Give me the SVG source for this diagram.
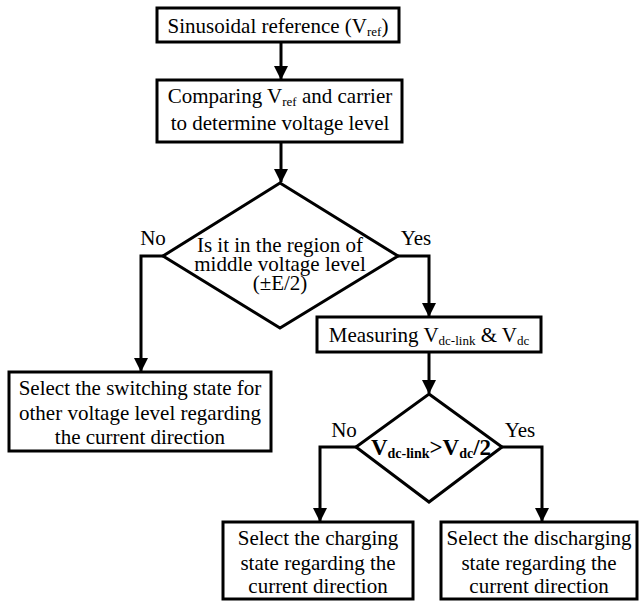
<svg xmlns="http://www.w3.org/2000/svg" width="642" height="601" viewBox="0 0 642 601">
<style>
.box{fill:#fff;stroke:#000;stroke-width:3}
.ln{fill:none;stroke:#000;stroke-width:3}
text{font-family:"Liberation Serif","Times New Roman","DejaVu Serif",serif;font-size:21px;fill:#000;text-anchor:middle}
.sub{font-size:13px}
.b{font-weight:bold;font-size:23px}
.b .sub{font-size:14px}
</style>
<defs>
<marker id="ah" markerUnits="userSpaceOnUse" markerWidth="14" markerHeight="16" refX="13" refY="7" orient="auto">
<path d="M0,0 L14,7 L0,14 Z" fill="#000"/>
</marker>
</defs>
<g id="connectors">
<line class="ln" x1="281" y1="42" x2="281" y2="79" marker-end="url(#ah)"/>
<line class="ln" x1="281" y1="142" x2="281" y2="182" marker-end="url(#ah)"/>
<polyline class="ln" points="163,256 141,256 141,371" marker-end="url(#ah)"/>
<polyline class="ln" points="398,256 429,256 429,316" marker-end="url(#ah)"/>
<line class="ln" x1="429" y1="352" x2="429" y2="393" marker-end="url(#ah)"/>
<polyline class="ln" points="356,447 320,447 320,521" marker-end="url(#ah)"/>
<polyline class="ln" points="502,447 542,447 542,521" marker-end="url(#ah)"/>
<text x="153" y="245">No</text>
<text x="416" y="245">Yes</text>
<text x="344" y="437">No</text>
<text x="520" y="437">Yes</text>
</g>
<g id="n1">
<rect class="box" x="157" y="8" width="242" height="34"/>
<text x="278" y="33">Sinusoidal reference (V<tspan class="sub" dy="3">ref</tspan><tspan dy="-3">)</tspan></text>
</g>
<g id="n2">
<rect class="box" x="157" y="80" width="245" height="62"/>
<text x="280" y="103">Comparing V<tspan class="sub" dy="3">ref</tspan><tspan dy="-3"> and carrier</tspan></text>
<text x="280" y="130">to determine voltage level</text>
</g>
<g id="d1">
<polygon class="box" points="280,183 398,256 280,328 163,256"/>
<text x="280" y="252">Is it in the region of</text>
<text x="280" y="271">middle voltage level</text>
<text x="280" y="290">(±E/2)</text>
</g>
<g id="n3">
<rect class="box" x="9" y="372" width="262" height="79"/>
<text x="140" y="395">Select the switching state for</text>
<text x="140" y="420">other voltage level regarding</text>
<text x="140" y="444">the current direction</text>
</g>
<g id="n4">
<rect class="box" x="317" y="317" width="224" height="35"/>
<text x="429" y="342">Measuring V<tspan class="sub" dy="3">dc-link</tspan><tspan dy="-3"> &amp; V</tspan><tspan class="sub" dy="3">dc</tspan></text>
</g>
<g id="d2">
<polygon class="box" points="429,394 502,447 429,502 356,447"/>
<text class="b" x="431" y="455">V<tspan class="sub" dy="3">dc-link</tspan><tspan dy="-3">&gt;V</tspan><tspan class="sub" dy="3">dc</tspan><tspan dy="-3">/2</tspan></text>
</g>
<g id="n5">
<rect class="box" x="223" y="522" width="190" height="77"/>
<text x="318" y="545">Select the charging</text>
<text x="318" y="570">state regarding the</text>
<text x="318" y="593">current direction</text>
</g>
<g id="n6">
<rect class="box" x="441" y="522" width="196" height="77"/>
<text x="539" y="545">Select the discharging</text>
<text x="539" y="570">state regarding the</text>
<text x="539" y="593">current direction</text>
</g>
</svg>
